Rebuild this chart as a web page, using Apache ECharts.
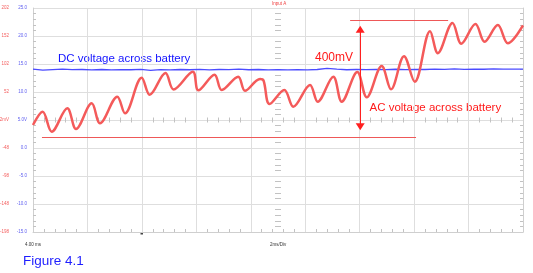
<!DOCTYPE html>
<html><head><meta charset="utf-8">
<script src="https://cdn.jsdelivr.net/npm/echarts@6/dist/echarts.min.js"></script>
<style>html,body{margin:0;padding:0;background:#fff}#c{width:533px;height:273px}</style>
</head><body><div id="c"></div>
<script>
// ---- data (time in ms, AC in mV, DC in V) ----
const redTime = [4.00,4.356,4.687,5.260,5.580,6.156,6.461,7.097,7.380,7.993,8.287,8.868,9.162,9.871,10.073,10.668,10.932,11.538,11.788,12.339,12.468,12.688,13.232,13.563,14.176,14.459,15.032,15.341,15.914,16.259,16.810,17.152,17.629,18.023,18.585,18.871,19.411,19.735,20.253,20.590,21.075,21.443,22.00];
const redMv = [-6.9,16.8,-18.9,22.9,-14.1,31.8,-3.9,43.6,14.0,77.4,47.2,85.9,56.5,88.3,55.0,82.9,55.6,79.3,54.1,75.2,72.5,30.6,55.6,25.7,64.5,34.7,79.3,34.7,87.7,42.5,98.4,56.8,115.7,70.4,160.6,121.3,175.2,138.3,173.4,141.8,171.6,139.0,170.8];
const blueTime = [4.00,4.36,4.72,5.08,5.44,5.80,6.16,6.52,6.88,7.24,7.60,7.96,8.32,8.68,9.04,9.40,9.76,10.12,10.48,10.84,11.20,11.56,11.92,12.28,12.64,13.00,13.36,13.72,14.08,14.44,14.80,15.16,15.52,15.88,16.24,16.60,16.96,17.32,17.68,18.04,18.40,18.76,19.12,19.48,19.84,20.20,20.56,20.92,21.28,21.64,22.00];
const blueVolts = [14.08,13.90,14.00,14.10,13.98,14.02,13.95,14.02,13.96,14.00,13.97,14.04,13.86,14.00,13.95,14.02,13.97,14.05,13.96,14.02,13.98,14.10,13.97,14.02,13.94,14.00,13.96,14.01,13.95,14.02,14.22,14.08,13.97,14.02,13.98,14.04,13.99,14.06,14.00,14.05,14.02,14.10,14.04,14.12,14.05,14.10,14.06,14.12,14.08,14.10,14.09];
const blueTicks = [-15,-10,-5,0,5,10,15,20,25];
const blueTickLabels = ['-15.0','-10.0','-5.0','0.0','5.0V','10.0','15.0','20.0','25.0'];
const redTicks = [-198,-148,-98,-48,2,52,102,152,202];
const redTickLabels = ['-198','-148','-98','-48','2mV','52','102','152','202'];
const cursorLowTime = [4.33, 18.07];
const cursorLowMv = -29;
const cursorHighTime = [15.65, 19.25];
const cursorHighMv = 181;
const arrowTime = 16.02;
const arrowMv = [164, -10];

// ---- chart ----
const FONT = '"Liberation Sans", Arial, sans-serif';
const gridColor = '#dedede';
const edgeColor = '#cfcfcf';
const tickColor = '#c2c2c2';

const hiddenAxisBase = {
  type: 'value', axisLabel: {show: false}, splitLine: {show: false},
  axisLine: {show: false, onZero: false}
};
function xAx(extra) {
  return Object.assign({}, hiddenAxisBase, {min: 4, max: 22, interval: 2}, extra);
}
function yAx(extra) {
  return Object.assign({}, hiddenAxisBase, {min: -15, max: 25, interval: 5}, extra);
}
const minor = (len) => ({show: true, splitNumber: 5, length: len, lineStyle: {color: tickColor, width: 1}});

const chart = echarts.init(document.getElementById('c'), null, {renderer: 'canvas'});
chart.setOption({
  animation: false,
  backgroundColor: '#ffffff',
  textStyle: {fontFamily: FONT},
  grid: {left: 33, right: 10, top: 8, bottom: 41, containLabel: false, outerBoundsMode: 'none'},
  xAxis: [
    xAx({position: 'bottom', axisLine: {show: true, onZero: false, lineStyle: {color: edgeColor}},
         splitLine: {show: true, lineStyle: {color: gridColor}},
         axisTick: {show: false, inside: true}, minorTick: minor(3)}),
    xAx({position: 'bottom', offset: -112, axisTick: {show: false, inside: true}, minorTick: minor(2.5)}),
    xAx({position: 'bottom', offset: -112, axisTick: {show: false, inside: false}, minorTick: minor(2.5)})
  ],
  yAxis: [
    yAx({position: 'left', axisLine: {show: true, onZero: false, lineStyle: {color: edgeColor}},
         splitLine: {show: true, lineStyle: {color: gridColor}},
         axisTick: {show: false, inside: true}, minorTick: minor(3),
         axisLabel: {show: true, color: '#6262f0', fontSize: 4.5, margin: 6,
           formatter: v => { const i = blueTicks.indexOf(v); return i >= 0 ? blueTickLabels[i] : ''; }}}),
    {type: 'value', position: 'left', offset: 18, min: -198, max: 202,
     axisLine: {show: false, onZero: false}, splitLine: {show: false}, axisTick: {show: false},
     axisLabel: {show: true, customValues: redTicks, color: '#f46060', fontSize: 4.5, margin: 6,
       formatter: v => { const i = redTicks.indexOf(v); return i >= 0 ? redTickLabels[i] : ''; }}},
    yAx({position: 'right', axisLine: {show: true, onZero: false, lineStyle: {color: edgeColor}},
         axisTick: {show: false, inside: true}, minorTick: minor(3)}),
    yAx({position: 'left', offset: -245, axisTick: {show: false, inside: true}, minorTick: minor(3)}),
    yAx({position: 'left', offset: -245, axisTick: {show: false, inside: false}, minorTick: minor(3)})
  ],
  series: [
    {type: 'line', name: 'DC', xAxisIndex: 0, yAxisIndex: 0, silent: true,
     data: blueTime.map((t, i) => [t, blueVolts[i]]), symbol: 'none',
     lineStyle: {color: '#4b4bff', width: 1.3}},
    {type: 'line', name: 'AC', xAxisIndex: 0, yAxisIndex: 1, silent: true,
     data: redTime.map((t, i) => [t, redMv[i]]), symbol: 'none', smooth: 0.35,
     lineStyle: {color: '#f45a5a', width: 2.5},
     markLine: {
       silent: true, symbol: 'none', label: {show: false},
       lineStyle: {type: 'solid', width: 1, color: '#ee5858'},
       emphasis: {disabled: true},
       data: [
         [{coord: [cursorLowTime[0], cursorLowMv]}, {coord: [cursorLowTime[1], cursorLowMv]}],
         [{coord: [cursorHighTime[0], cursorHighMv]}, {coord: [cursorHighTime[1], cursorHighMv]}],
         [{coord: [arrowTime, arrowMv[0]], symbol: 'triangle', symbolSize: [9, 7],
           lineStyle: {color: '#ff2020', width: 1, type: 'solid'}},
          {coord: [arrowTime, arrowMv[1]], symbol: 'triangle', symbolSize: [9, 7]}]
       ]
     }}
  ],
  graphic: [
    {type: 'text', x: 58, y: 59, silent: true,
     style: {text: 'DC voltage across battery', fill: '#1414ff', fontSize: 11.5, fontFamily: FONT, verticalAlign: 'middle'}},
    {type: 'text', x: 315, y: 57.5, silent: true,
     style: {text: '400mV', fill: '#ff1a1a', fontSize: 12, fontFamily: FONT, verticalAlign: 'middle'}},
    {type: 'text', x: 369.5, y: 108, silent: true,
     style: {text: 'AC voltage across battery', fill: '#ff1a1a', fontSize: 11.5, fontFamily: FONT, verticalAlign: 'middle'}},
    {type: 'text', x: 23, y: 261, silent: true,
     style: {text: 'Figure 4.1', fill: '#1e1eff', fontSize: 13.5, fontFamily: FONT, verticalAlign: 'middle'}},
    {type: 'text', x: 25, y: 245, silent: true,
     style: {text: '4.00 ms', fill: '#333333', fontSize: 4.5, fontFamily: FONT, verticalAlign: 'middle'}},
    {type: 'text', x: 270, y: 245, silent: true,
     style: {text: '2ms/Div', fill: '#333333', fontSize: 4.5, fontFamily: FONT, verticalAlign: 'middle'}},
    {type: 'text', x: 272, y: 3.5, silent: true,
     style: {text: 'Input A', fill: '#f04040', fontSize: 4.5, fontFamily: FONT, verticalAlign: 'middle'}},
    {type: 'rect', silent: true, shape: {x: 140.5, y: 232, width: 2.5, height: 2.5}, style: {fill: '#444444'}}
  ]
});
</script>
</body></html>
